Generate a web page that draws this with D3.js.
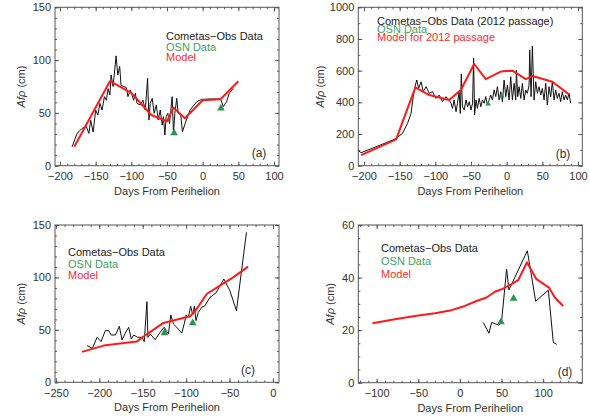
<!DOCTYPE html>
<html>
<head>
<meta charset="utf-8">
<script src="https://cdn.jsdelivr.net/npm/d3@7"></script>
<style>
body { margin: 0; background: #fff; }
text { font-family: "Liberation Sans", Arial, sans-serif; fill: #333; }
</style>
</head>
<body>
<svg id="chart" width="590" height="418"></svg>
<script>
// ---- panel (a)
var obsA = [[-183,18],[-176,30.6],[-169,35.4],[-163,37],[-159.5,30.6],[-157,43],[-153.5,32],[-150,52.7],[-147,48],[-144,59],[-141,52.7],[-137.7,65.4],[-135,62],[-132.6,73],[-130,67],[-128.4,86],[-125.6,75],[-123.3,90.6],[-121.4,104],[-119,86],[-116.3,94],[-114.4,76],[-110.7,75],[-107,74],[-104.7,65.4],[-101.4,71.7],[-99,67],[-96.7,62],[-94.4,68.5],[-92,59],[-87.4,57.5],[-83.7,62],[-80.5,52.7],[-77.2,82.7],[-75.3,43.3],[-73.5,59],[-70.7,63.8],[-68,49.6],[-65,57.5],[-62.3,43.3],[-59.5,52.7],[-56.7,38.5],[-55,46.4],[-53,29],[-51.2,46.4],[-48.8,49.6],[-46.5,40],[-44.6,52.7],[-42.8,65.4],[-40.9,30.6],[-39,49.6],[-36.3,63.8],[-34.4,49.6],[-30.7,48],[-28.4,32],[-24.6,40],[-17.7,52.7],[-8.4,60.6],[-1.4,62.8],[10.3,63.2],[25,63.2],[29,56],[33.5,60.6],[37.2,68.5],[42.8,73.3]];
var modelA = [[-180,18],[-130,80],[-100,69],[-72,48],[-50,42],[-41,55],[-25,45],[0,62],[25,63],[50,80]];
var osnA = [[-40,31],[25.6,54.5]];
var xTicksA = [-200,-150,-100,-50,0,50,100];
var yTicksA = [0,50,100,150];
var legendA = ["Cometas\u2212Obs Data", "OSN Data", "Model"];

// ---- panel (b)
var obsB = [[-208,95],[-204,82],[-169,145],[-160,162],[-155,173],[-146,204],[-139,267],[-134,330],[-131,436],[-128,509],[-126,541],[-123.5,488],[-120,530],[-117,467],[-113,499],[-108.6,457],[-104,467],[-99,425],[-94.6,446],[-90,404],[-85.3,436],[-80.6,415],[-78,394],[-76,362],[-73.7,415],[-71,341],[-69,394],[-66.6,467],[-65,330],[-63.6,579],[-62,372],[-59.6,352],[-57,415],[-54.8,372],[-52.5,404],[-50,352],[-47.8,394],[-46.4,678],[-45,320],[-43,415],[-41,362],[-38.6,425],[-36.3,372],[-34,415],[-31.6,394],[-29.3,436],[-27,383],[-24.6,415],[-22.3,446],[-20,415],[-17.6,478],[-15.3,436],[-13,499],[-10.6,415],[-8.3,467],[-6,404],[-3.6,541],[-1.3,436],[1,509],[3.4,415],[5.7,562],[8,415],[10.4,520],[12.7,415],[13.6,604],[15.5,436],[17.4,499],[19.7,425],[22,520],[24.4,415],[26.7,478],[29,457],[31.4,509],[32.3,730],[34.2,436],[36,756],[38.4,415],[40.7,530],[43,457],[45.4,499],[47.7,446],[50,488],[52.4,415],[54.7,520],[57,383],[59.4,499],[61.7,436],[64,530],[66.4,415],[68.7,478],[71,425],[73.4,457],[75.7,404],[78,467],[80.4,415],[82.7,446],[85,415],[87.4,457],[89.7,394]];
var modelB = [[-204,67],[-155,166],[-128,495],[-108.6,446],[-80.6,415],[-64.3,478],[-45.6,642],[-29.3,547],[-8.3,594],[8,600],[26.7,547],[36,566],[64,530],[87.4,450]];
var osnB = [[-26,390],[-7,440]];
var xTicksB = [-200,-150,-100,-50,0,50,100];
var yTicksB = [0,200,400,600,800,1000];
var legendB = ["Cometas\u2212Obs Data (2012 passage)", "OSN Data", "Model for 2012 passage"];

// ---- panel (c)
var obsC = [[-214,35],[-208,32.4],[-202.5,42.9],[-198,38.8],[-193,49.3],[-189,49.3],[-186.4,45.1],[-181.4,45.1],[-176.9,53.4],[-173.8,40.4],[-170,47],[-166.2,52.4],[-163.1,41.3],[-160.4,45.1],[-155.8,42.9],[-150.9,42.9],[-148.2,38.8],[-145.1,76.9],[-144,42.9],[-141.3,46.1],[-135.6,40.7],[-129.8,47.7],[-125.3,52.4],[-120.3,46.1],[-117.6,64.2],[-114.6,55.6],[-110.7,52.4],[-105,47],[-101.9,56.6],[-100,64.2],[-97.4,62],[-94.7,72.5],[-92.4,64.2],[-90.5,72.5],[-88.6,58.8],[-85.9,66.7],[-82.1,71.5],[-78.2,73.1],[-72.5,81],[-65.6,85.2],[-56.5,98.5],[-49.6,87.4],[-42,68.3],[-30.5,143]];
var modelC = [[-220,29],[-195,35],[-157,38.8],[-145,46],[-126,56.6],[-95.4,62.9],[-87.8,69.9],[-76.3,84.2],[-61,92.2],[-45.8,100.1],[-28.6,110.3]];
var osnC = [[-125,47],[-92.4,56.6]];
var xTicksC = [-250,-200,-150,-100,-50,0];
var yTicksC = [0,50,100,150];
var legendC = ["Cometas\u2212Obs Data", "OSN Data", "Model"];

// ---- panel (d)
var obsD = [[28.1,22.9],[34.9,18.8],[38.1,22.9],[46.9,21.9],[50.1,23.5],[56.1,43.2],[58.9,35.3],[81,50.2],[91,31],[106.2,35.2],[112.2,15.3],[116.2,14.6]];
var modelD = [[-105,22.6],[-78,24.1],[-54,25.4],[-30,26.4],[-10,27.6],[6,29.2],[20,31.1],[32,32.4],[42,34.6],[52,35.8],[62,37.5],[70,39],[80.5,45.8],[92,39.4],[107,36.2],[114,32.4],[124,29.2]];
var osnD = [[49.3,23.1],[64.5,32]];
var xTicksD = [-100,-50,0,50,100];
var yTicksD = [0,20,40,60];
var legendD = ["Cometas\u2212Obs Data", "OSN Data", "Model"];

var panels = [
  {obs: obsA, model: modelA, osn: osnA, xt: xTicksA, yt: yTicksA, legend: legendA, tag: "(a)",
   box: [55, 279, 7.3, 165.7], xdom: [-207, 107], ydom: [0, 150], xminor: 10, yminor: 10,
   leg: [166, 36, 10.7], tagPos: [259, 157], ytitleX: 21, osnSize: 26},
  {obs: obsB, model: modelB, osn: osnB, xt: xTicksB, yt: yTicksB, legend: legendB, tag: "(b)",
   box: [358.3, 582.3, 7.3, 165.7], xdom: [-208, 106], ydom: [0, 1000], xminor: 10, yminor: 100,
   leg: [377, 21, 8], tagPos: [563, 158], ytitleX: 320, osnSize: 14},
  {obs: obsC, model: modelC, osn: osnC, xt: xTicksC, yt: yTicksC, legend: legendC, tag: "(c)",
   box: [55, 279, 225, 382.3], xdom: [-251, 7], ydom: [0, 150], xminor: 10, yminor: 10,
   leg: [68, 252.5, 11.2], tagPos: [248, 374], ytitleX: 21, osnSize: 26},
  {obs: obsD, model: modelD, osn: osnD, xt: xTicksD, yt: yTicksD, legend: legendD, tag: "(d)",
   box: [358.3, 582.3, 225, 382.7], xdom: [-122, 147], ydom: [0, 60], xminor: 10, yminor: 5,
   leg: [381, 248, 13.3], tagPos: [565, 376], ytitleX: 330, osnSize: 26}
];

var svg = d3.select("#chart");
var legendColors = ["#222", "#3f9f5f", "#ff2a2a"];

function minorVals(dom, step) {
  var out = [];
  var start = Math.ceil(dom[0] / step) * step;
  for (var v = start; v <= dom[1] + 1e-9; v += step) out.push(v);
  return out;
}

panels.forEach(function(p) {
  var x = d3.scaleLinear().domain(p.xdom).range([p.box[0], p.box[1]]);
  var y = d3.scaleLinear().domain(p.ydom).range([p.box[3], p.box[2]]);
  var g = svg.append("g");

  var xMinor = minorVals(p.xdom, p.xminor);
  var yMinor = minorVals(p.ydom, p.yminor);

  function styleAxis(sel) {
    sel.select(".domain").remove();
    sel.selectAll("line").attr("stroke", "#555");
    sel.selectAll("text").attr("font-size", 11).attr("fill", "#333")
      .attr("font-family", '"Liberation Sans", Arial, sans-serif');
  }

  // minor ticks, all four sides
  g.append("g").attr("transform", "translate(0," + p.box[3] + ")")
    .call(d3.axisBottom(x).tickValues(xMinor).tickSize(-2).tickFormat("")).call(styleAxis);
  g.append("g").attr("transform", "translate(0," + p.box[2] + ")")
    .call(d3.axisTop(x).tickValues(xMinor).tickSize(-2).tickFormat("")).call(styleAxis);
  g.append("g").attr("transform", "translate(" + p.box[0] + ",0)")
    .call(d3.axisLeft(y).tickValues(yMinor).tickSize(-2).tickFormat("")).call(styleAxis);
  g.append("g").attr("transform", "translate(" + p.box[1] + ",0)")
    .call(d3.axisRight(y).tickValues(yMinor).tickSize(-2).tickFormat("")).call(styleAxis);

  // major ticks + labels
  g.append("g").attr("transform", "translate(0," + p.box[3] + ")")
    .call(d3.axisBottom(x).tickValues(p.xt).tickSize(-4).tickPadding(7)
      .tickFormat(function(d) { return d < 0 ? "\u2212" + (-d) : d; }))
    .call(styleAxis);
  g.append("g").attr("transform", "translate(0," + p.box[2] + ")")
    .call(d3.axisTop(x).tickValues(p.xt).tickSize(-4).tickFormat("")).call(styleAxis);
  g.append("g").attr("transform", "translate(" + p.box[0] + ",0)")
    .call(d3.axisLeft(y).tickValues(p.yt).tickSize(-4).tickPadding(4).tickFormat(d3.format("d")))
    .call(styleAxis);
  g.append("g").attr("transform", "translate(" + p.box[1] + ",0)")
    .call(d3.axisRight(y).tickValues(p.yt).tickSize(-4).tickFormat("")).call(styleAxis);

  // frame
  g.append("rect")
    .attr("x", p.box[0]).attr("y", p.box[2])
    .attr("width", p.box[1] - p.box[0]).attr("height", p.box[3] - p.box[2])
    .attr("fill", "none").attr("stroke", "#555").attr("stroke-width", 1);

  var line = d3.line().x(function(d) { return x(d[0]); }).y(function(d) { return y(d[1]); });

  g.append("path").datum(p.obs).attr("d", line)
    .attr("fill", "none").attr("stroke", "#111").attr("stroke-width", 1)
    .attr("stroke-linejoin", "round");
  g.append("path").datum(p.model).attr("d", line)
    .attr("fill", "none").attr("stroke", "#ff1a1a").attr("stroke-width", 2)
    .attr("stroke-linejoin", "round");

  g.selectAll(".osn").data(p.osn).enter().append("path")
    .attr("d", d3.symbol().type(d3.symbolTriangle).size(p.osnSize))
    .attr("transform", function(d) { return "translate(" + x(d[0]) + "," + y(d[1]) + ")"; })
    .attr("fill", "#2e9352");

  // legend
  p.legend.forEach(function(t, i) {
    g.append("text").attr("x", p.leg[0]).attr("y", p.leg[1] + i * p.leg[2])
      .attr("dy", "0.35em").attr("font-size", 11)
      .style("fill", legendColors[i]).text(t);
  });

  g.append("text").attr("x", p.tagPos[0]).attr("y", p.tagPos[1])
    .attr("text-anchor", "middle").attr("font-size", 12).text(p.tag);

  // axis titles
  g.append("text").attr("x", (p.box[0] + p.box[1]) / 2).attr("y", p.box[3] + 29)
    .attr("text-anchor", "middle").attr("font-size", 11).text("Days From Perihelion");

  var yt = g.append("text")
    .attr("transform", "translate(" + p.ytitleX + "," + ((p.box[2] + p.box[3]) / 2) + ") rotate(-90)")
    .attr("text-anchor", "middle").attr("dy", "0.35em").attr("font-size", 11);
  yt.append("tspan").attr("font-style", "italic").text("Af\u03c1");
  yt.append("tspan").text(" (cm)");
});
</script>
</body>
</html>
